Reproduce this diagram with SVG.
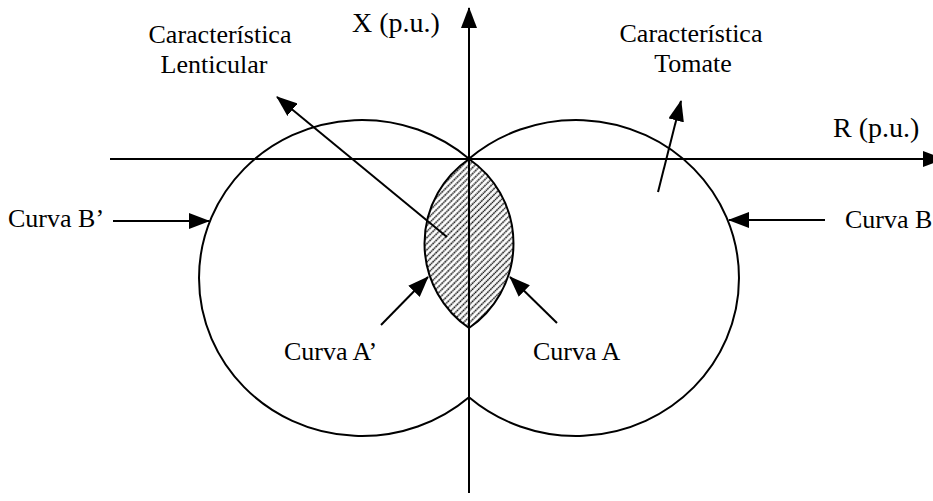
<svg xmlns="http://www.w3.org/2000/svg" width="933" height="501" viewBox="0 0 933 501">
<style>
text{font-family:"Liberation Serif","Times New Roman",serif;font-size:26px;fill:#000}
.ax{font-size:28px}
.ln{fill:none;stroke:#000;stroke-width:2}
.mid{text-anchor:middle}
</style>
<defs>
<marker id="ah" markerUnits="userSpaceOnUse" markerWidth="22" markerHeight="16" refX="20" refY="8" orient="auto">
<path d="M0,0 L21,8 L0,16 Z" fill="#000"/>
</marker>
<pattern id="hatch" patternUnits="userSpaceOnUse" width="4.3" height="4.3" patternTransform="rotate(-45)">
<rect width="4.3" height="4.3" fill="#fff"/>
<line x1="0" y1="1.2" x2="4.3" y2="1.2" stroke="#111" stroke-width="1.6" stroke-dasharray="1.6 0.6"/>
</pattern>
</defs>
<rect width="933" height="501" fill="#fff"/>
<g id="lens">
<path d="M469,159 A102.5,102.5 0 0,0 469,328 A102.5,102.5 0 0,0 469,159 Z" fill="url(#hatch)" stroke="#000" stroke-width="2"/>
</g>
<g id="curve-b-prime">
<path class="ln" d="M469,158.8 A163,158 0 1,0 469,397.2"/>
</g>
<g id="curve-b">
<path class="ln" d="M469,158.8 A163,158 0 1,1 469,397.2"/>
</g>
<g id="axes">
<line class="ln" x1="469" y1="493" x2="469" y2="8" marker-end="url(#ah)"/>
<line class="ln" x1="110" y1="159" x2="943" y2="159" marker-end="url(#ah)"/>
<text class="ax" x="352" y="32">X (p.u.)</text>
<text class="ax" x="833" y="137">R (p.u.)</text>
</g>
<g id="labels">
<text class="mid" x="220" y="43">Característica</text>
<text class="mid" x="214" y="73">Lenticular</text>
<text class="mid" x="691" y="42">Característica</text>
<text class="mid" x="693" y="72">Tomate</text>
<text x="8" y="227">Curva B’</text>
<text x="845" y="228">Curva B</text>
<text x="284" y="360">Curva A’</text>
<text x="533" y="360">Curva A</text>
</g>
<g id="connectors">
<line class="ln" x1="447" y1="237" x2="277" y2="97" marker-end="url(#ah)"/>
<line class="ln" x1="658" y1="192" x2="681" y2="101" marker-end="url(#ah)"/>
<line class="ln" x1="113" y1="221" x2="209" y2="221" marker-end="url(#ah)"/>
<line class="ln" x1="825" y1="220" x2="729" y2="220" marker-end="url(#ah)"/>
<line class="ln" x1="381" y1="325" x2="428" y2="277" marker-end="url(#ah)"/>
<line class="ln" x1="557" y1="323" x2="510" y2="277" marker-end="url(#ah)"/>
</g>
</svg>
